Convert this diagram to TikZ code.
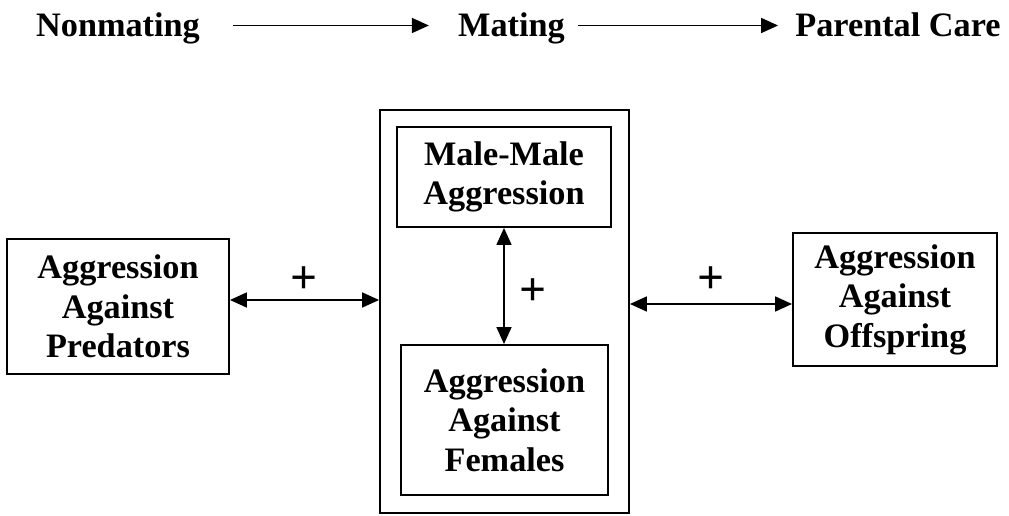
\documentclass[tikz,border=0pt]{standalone}
\usepackage{fontspec}
\setmainfont{Liberation Serif}
\usetikzlibrary{positioning,arrows.meta}

\begin{document}
\begin{tikzpicture}[x=0.02cm, y=-0.02cm, font=\fontsize{19.5}{22.5}\selectfont\bfseries,
      >={Triangle[length=0.34cm, width=0.3cm]},
      caja/.style={draw, line width=1.1pt, align=center, inner sep=0pt},
      etapa/.style={inner sep=0pt, anchor=base, text height=0.46cm, text depth=0pt},
      signo/.style={inner sep=0pt, font=\fontsize{27}{30}\selectfont\bfseries}]
    \useasboundingbox (0,0) rectangle (1009,516);
    \node[etapa] (nonmat) at (118,37) {Nonmating};
    \node[etapa] (mating) at (511.5,37) {Mating};
    \node[etapa] (care) at (898,37) {Parental Care};
    \node[caja, minimum width=4.44cm, minimum height=2.7cm] (predators) at (118,306.5) {Aggression\\Against\\Predators};
    \node[caja, minimum width=4.98cm, minimum height=8.06cm] (matingbox) at (504.5,311.5) {};
    \node[caja, minimum width=4.28cm, minimum height=2.0cm] (malemale) at (504,177) {Male-Male\\Aggression};
    \node[caja, minimum width=4.14cm, minimum height=3.0cm] (females) at (504.5,420) {Aggression\\Against\\Females};
    \node[caja, minimum width=4.08cm, minimum height=2.66cm] (offspring) at (895,299.5) {Aggression\\Against\\Offspring};
    \coordinate (izq) at ([yshift=0.13cm]predators.east);
    \coordinate (der) at ([yshift=-0.09cm]offspring.west);
    \draw[->, line width=1pt, shorten <=0.66cm, shorten >=0.58cm] (nonmat.east) -- (mating.west);
    \draw[->, line width=1pt, shorten <=0.26cm, shorten >=0.34cm] (mating.east) -- (care.west);
    \draw[<->, line width=1pt] (izq) -- node[signo, above=0.12cm]{+} (izq -| matingbox.west);
    \draw[<->, line width=1pt] (malemale.south) -- node[signo, right=0.3cm, yshift=-0.12cm]{+} (malemale.south |- females.north);
    \draw[<->, line width=1pt] (der -| matingbox.east) -- node[signo, above=0.2cm]{+} (der);
  \end{tikzpicture}
\end{document}
